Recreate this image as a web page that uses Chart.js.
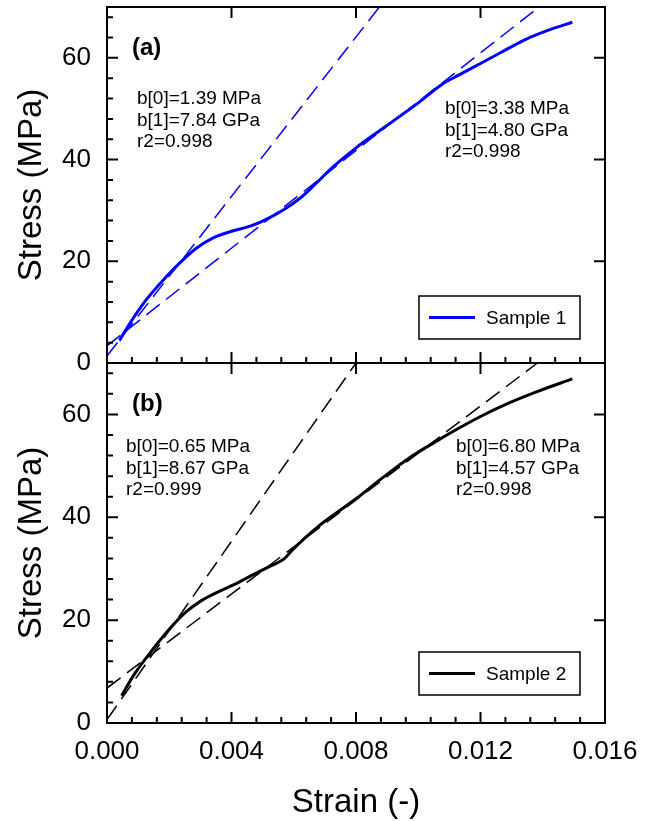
<!DOCTYPE html>
<html>
<head>
<meta charset="utf-8">
<script src="https://cdn.jsdelivr.net/npm/chart.js@4.4.1/dist/chart.umd.min.js"></script>
<style>
  body { margin: 0; background: #fff; }
  #wrap { width: 654px; height: 821px; }
</style>
</head>
<body>
<div id="wrap"><canvas id="myChart" width="654" height="821"></canvas></div>
<script>
// Sample 1 (panel a)
const strain1 = [0.0004, 0.0006, 0.00127, 0.00194, 0.00234, 0.00288, 0.00341, 0.0040, 0.0046, 0.0050, 0.00569, 0.00622, 0.00656, 0.00729, 0.0080, 0.0089, 0.00997, 0.01077, 0.0113, 0.0120, 0.01264, 0.01344, 0.01425, 0.01495];
const stress1 = [4.4, 6.5, 12.5, 17.2, 19.7, 22.6, 24.6, 25.9, 26.9, 27.9, 30.2, 32.5, 34.4, 38.7, 42.3, 46.3, 51.0, 54.8, 56.6, 58.9, 61.0, 63.6, 65.6, 67.0];

// Sample 2 (panel b)
const strain2 = [0.00047, 0.00087, 0.00147, 0.00207, 0.00254, 0.00301, 0.00354, 0.00408, 0.00475, 0.00528, 0.00569, 0.00595, 0.00676, 0.0080, 0.0089, 0.0097, 0.01064, 0.0113, 0.0120, 0.0129, 0.01384, 0.01495];
const stress2 = [5.3, 9.4, 14.3, 18.7, 21.6, 23.7, 25.4, 26.9, 29.0, 30.6, 31.9, 33.6, 38.1, 43.6, 47.9, 51.5, 55.0, 57.3, 59.6, 62.2, 64.5, 66.9];

// linear fits: stress = b0 + b1 * strain  (b0 in MPa, b1 in GPa)
const fitB0a = [1.39, 3.38];
const fitB1a = [7.84, 4.80];
const fitR2a = [0.998, 0.998];
const fitB0b = [0.65, 6.80];
const fitB1b = [8.67, 4.57];
const fitR2b = [0.999, 0.998];

const stressMax = 70;
const strainMax = 0.016;

const FONT = "'Liberation Sans', Arial, sans-serif";

function pts(xs, ys) {
  return xs.map((x, i) => ({ x: x, y: ys[i] }));
}
function fitLine(b0, b1) {
  // from strain 0 up to where the fit reaches the top of the axis
  return [{ x: 0, y: b0 }, { x: (stressMax - b0) / (b1 * 1000), y: stressMax }];
}
function fitText(b0, b1, r2) {
  return ["b[0]=" + b0.toFixed(2) + " MPa", "b[1]=" + b1.toFixed(2) + " GPa", "r2=" + r2.toFixed(3)];
}

const curve = (label, data, color, axis) => ({
  label: label, data: data, yAxisID: axis, borderColor: color, borderWidth: 3,
  pointRadius: 0, fill: false, cubicInterpolationMode: "monotone"
});
const dashed = (data, color, axis) => ({
  data: data, yAxisID: axis, borderColor: color, borderWidth: 1.5,
  borderDash: [17, 8], pointRadius: 0, fill: false
});

// no extra room for half tick labels at the ends of the axes
function noPad(s) {
  s.paddingTop = 0; s.paddingBottom = 0; s.paddingLeft = 0; s.paddingRight = 0;
}

// frame, inward ticks, panel labels, fit texts and legends
const panelPlugin = {
  id: "panels",
  afterDraw(chart) {
    const ctx = chart.ctx;
    const xs = chart.scales.x;
    const panels = [
      { ys: chart.scales.ya, tag: "(a)", color: "#0000ff", name: "Sample 1",
        left: fitText(fitB0a[0], fitB1a[0], fitR2a[0]), right: fitText(fitB0a[1], fitB1a[1], fitR2a[1]),
        lx: 30, ly: 92, rx: 338, ry: 102 },
      { ys: chart.scales.yb, tag: "(b)", color: "#000000", name: "Sample 2",
        left: fitText(fitB0b[0], fitB1b[0], fitR2b[0]), right: fitText(fitB0b[1], fitB1b[1], fitR2b[1]),
        lx: 19, ly: 84, rx: 349, ry: 84 }
    ];
    ctx.save();
    ctx.strokeStyle = "#000";
    ctx.fillStyle = "#000";
    panels.forEach(p => {
      const ys = p.ys;
      const L = xs.left, R = xs.right, T = ys.top, B = ys.bottom;
      ctx.lineWidth = 2;
      ctx.strokeRect(L, T, R - L, B - T);
      ctx.beginPath();
      // y ticks
      for (let v = 0; v <= stressMax; v += 4) {
        const y = ys.getPixelForValue(v);
        const major = v % 20 === 0;
        ctx.moveTo(L, y); ctx.lineTo(L + (major ? 11 : 6), y);
        if (major) { ctx.moveTo(R, y); ctx.lineTo(R - 11, y); }
      }
      // x ticks
      for (let i = 0; i <= 20; i++) {
        const x = xs.getPixelForValue(i * 0.0008);
        const major = i % 5 === 0;
        ctx.moveTo(x, B); ctx.lineTo(x, B - (major ? 11 : 6));
        if (major && i > 0 && i < 20) { ctx.moveTo(x, T); ctx.lineTo(x, T + 11); }
      }
      ctx.stroke();

      // panel tag
      ctx.textBaseline = "middle";
      ctx.textAlign = "left";
      ctx.font = "bold 24px " + FONT;
      ctx.fillText(p.tag, L + 25, T + 41);
      // fit texts
      ctx.font = "19px " + FONT;
      p.left.forEach((t, i) => ctx.fillText(t, L + p.lx, T + p.ly + i * 21.5));
      p.right.forEach((t, i) => ctx.fillText(t, L + p.rx, T + p.ry + i * 21.5));

      // legend box
      const bx = L + 312, by = T + 289, bw = 161, bh = 43;
      ctx.lineWidth = 1.5;
      ctx.strokeRect(bx, by, bw, bh);
      ctx.beginPath();
      ctx.strokeStyle = p.color;
      ctx.lineWidth = 3;
      ctx.moveTo(bx + 10, by + bh / 2); ctx.lineTo(bx + 56, by + bh / 2);
      ctx.stroke();
      ctx.strokeStyle = "#000";
      ctx.fillText(p.name, bx + 67, by + bh / 2 + 1);
    });
    ctx.restore();
  }
};

const yAxis = (weight) => ({
  type: "linear", position: "left", stack: "panels", stackWeight: weight,
  min: 0, max: stressMax,
  ticks: { stepSize: 20, includeBounds: false, padding: 16, color: "#000", font: { family: FONT, size: 26 } },
  grid: { display: false, drawTicks: false },
  border: { display: false },
  title: { display: true, text: "Stress (MPa)", color: "#000", font: { family: FONT, size: 33 }, padding: { top: 12, bottom: 0 } },
  afterFit(s) { s.width = 107; noPad(s); }
});

new Chart(document.getElementById("myChart"), {
  type: "line",
  data: {
    datasets: [
      curve("Sample 1", pts(strain1, stress1), "#0000ff", "ya"),
      curve("Sample 2", pts(strain2, stress2), "#000000", "yb"),
      dashed(fitLine(fitB0a[0], fitB1a[0]), "#0000ff", "ya"),
      dashed(fitLine(fitB0a[1], fitB1a[1]), "#0000ff", "ya"),
      dashed(fitLine(fitB0b[0], fitB1b[0]), "#000000", "yb"),
      dashed(fitLine(fitB0b[1], fitB1b[1]), "#000000", "yb")
    ]
  },
  options: {
    responsive: false,
    animation: false,
    layout: { padding: { top: 7, right: 49, left: 0, bottom: 0 } },
    plugins: { legend: { display: false }, tooltip: { enabled: false } },
    scales: {
      x: {
        type: "linear", position: "bottom", min: 0, max: strainMax,
        ticks: { stepSize: 0.004, padding: 13, color: "#000", font: { family: FONT, size: 26 },
          callback: v => v.toFixed(3) },
        grid: { display: false, drawTicks: false },
        border: { display: false },
        title: { display: true, text: "Strain (-)", color: "#000", font: { family: FONT, size: 33, lineHeight: 1 }, padding: { top: 0, bottom: 2 } },
        afterFit(s) { s.height = 98; noPad(s); }
      },
      yb: yAxis(360),
      ya: yAxis(356)
    }
  },
  plugins: [panelPlugin]
});
</script>
</body>
</html>
